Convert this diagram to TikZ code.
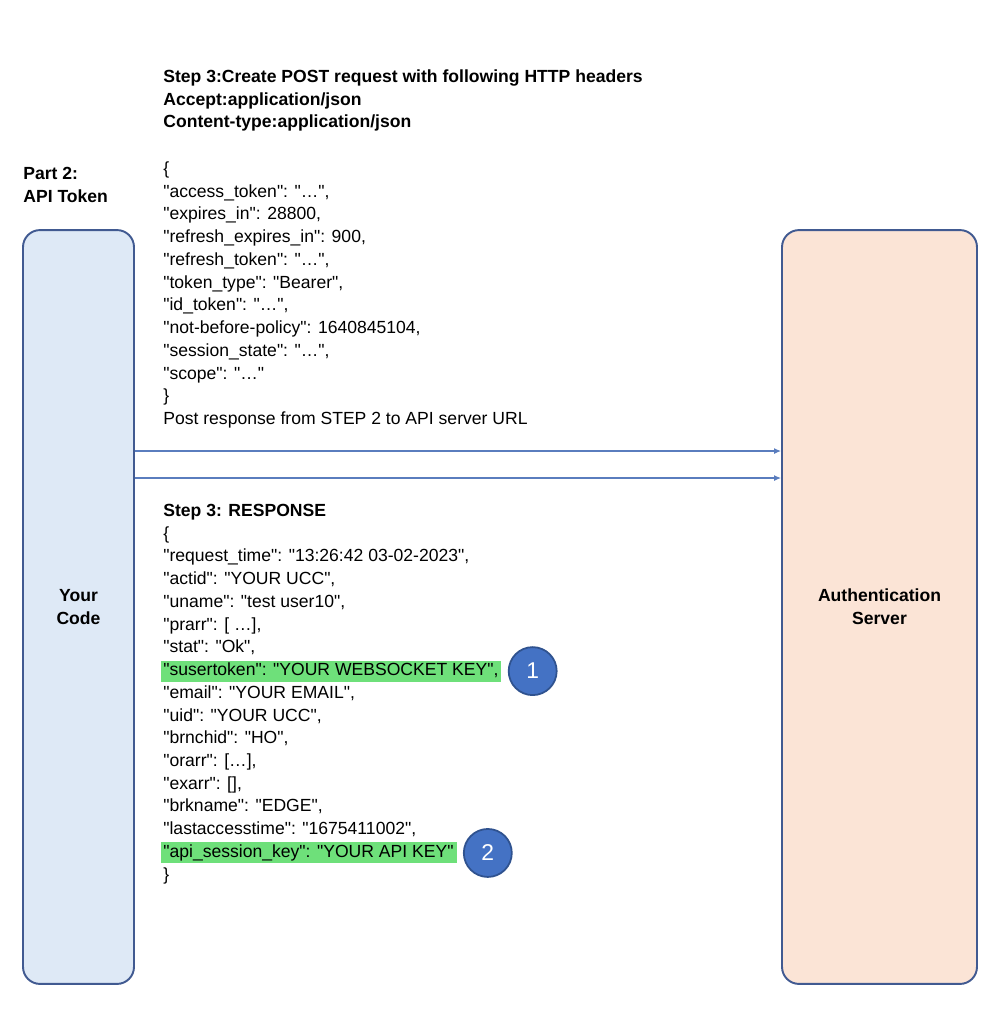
\documentclass[tikz,border=0pt]{standalone}
\usepackage{fontspec}
\newfontfamily\uifont{Liberation Sans}
\usetikzlibrary{arrows.meta,positioning}
\definecolor{boxline}{RGB}{65,90,145}
\definecolor{codefill}{RGB}{222,233,246}
\definecolor{authfill}{RGB}{251,228,214}
\definecolor{flowblue}{RGB}{90,125,190}
\definecolor{hlgreen}{RGB}{110,224,122}
\definecolor{numfill}{RGB}{68,114,196}
\definecolor{numline}{RGB}{47,82,143}
% green marker behind one line of the response
\newcommand{\hlbox}[1]{\kern-0.04cm{\setlength{\fboxsep}{0pt}\colorbox{hlgreen}{\rule[-0.12cm]{0pt}{0.42cm}\kern0.04cm#1\kern0.06cm}}}

\begin{document}
\begin{tikzpicture}[x=0.02cm,y=-0.02cm,font=\uifont\fontsize{10}{13}\selectfont,
    party/.style={draw=boxline,line width=1.1pt,rounded corners=0.34cm,minimum height=15.08cm,align=center,font=\uifont\bfseries\fontsize{10}{13}\selectfont},
    codeline/.style={anchor=west,inner sep=0pt,text height=0.3cm,text depth=0.12cm},
    flow/.style={draw=flowblue,line width=0.7pt,-{Latex[length=0.14cm,width=0.12cm]}},
    keynum/.style={circle,fill=numfill,draw=numline,line width=1pt,minimum size=0.96cm,inner sep=0pt,text=white,font=\uifont\fontsize{13}{13}\selectfont}]
    \useasboundingbox (0,0) rectangle (996,1024);
    % the two parties
    \node[party,fill=codefill,minimum width=2.22cm] (yourcode) at (78.5,607) {Your\\Code};
    \node[party,fill=authfill,minimum width=3.9cm] (auth) at (879.5,607) {Authentication\\Server};
    \node[anchor=west,align=left,inner sep=0pt,font=\uifont\bfseries\fontsize{10}{13}\selectfont] (part) at (23,185) {Part 2:\\API Token};
    % request
    \foreach \ln [count=\i from 0] in {Step 3:Create POST request with following HTTP headers,Accept:application/json,Content-type:application/json}
      \node[codeline,font=\uifont\bfseries\fontsize{10}{13}\selectfont] (hdr\i) at (163,78+22.73*\i) {\ln};
    \foreach \ln [count=\i from 0] in {\{,{"access\_token": "\dots",},{"expires\_in": 28800,},{"refresh\_expires\_in": 900,},
        {"refresh\_token": "\dots",},{"token\_type": "Bearer",},{"id\_token": "\dots",},{"not-before-policy": 1640845104,},
        {"session\_state": "\dots",},{"scope": "\dots"},\},Post response from STEP 2 to API server URL}
      \node[codeline] (req\i) at (163,170+22.73*\i) {\ln};
    % arrows
    \coordinate (send) at (0,451);
    \coordinate (back) at (0,478);
    \draw[flow] (yourcode.east |- send) -- (auth.west |- send);
    \draw[flow] (yourcode.east |- back) -- (auth.west |- back);
    % response
    \foreach \ln [count=\i from 0] in {{\bfseries Step 3: RESPONSE},\{,{"request\_time": "13:26:42 03-02-2023",},{"actid": "YOUR UCC",},
        {"uname": "test user10",},{"prarr": [ \dots],},{"stat": "Ok",},{\hlbox{"susertoken": "YOUR WEBSOCKET KEY",}},
        {"email": "YOUR EMAIL",},{"uid": "YOUR UCC",},{"brnchid": "HO",},{"orarr": [\dots],},{"exarr": [],},
        {"brkname": "EDGE",},{"lastaccesstime": "1675411002",},{\hlbox{"api\_session\_key": "YOUR API KEY"}},\}}
      \node[codeline] (resp\i) at (163,512+22.73*\i) {\ln};
    \node[keynum,right=0.12cm of resp7] (key1) {1};
    \node[keynum,right=0.12cm of resp15] (key2) {2};
\end{tikzpicture}
\end{document}
